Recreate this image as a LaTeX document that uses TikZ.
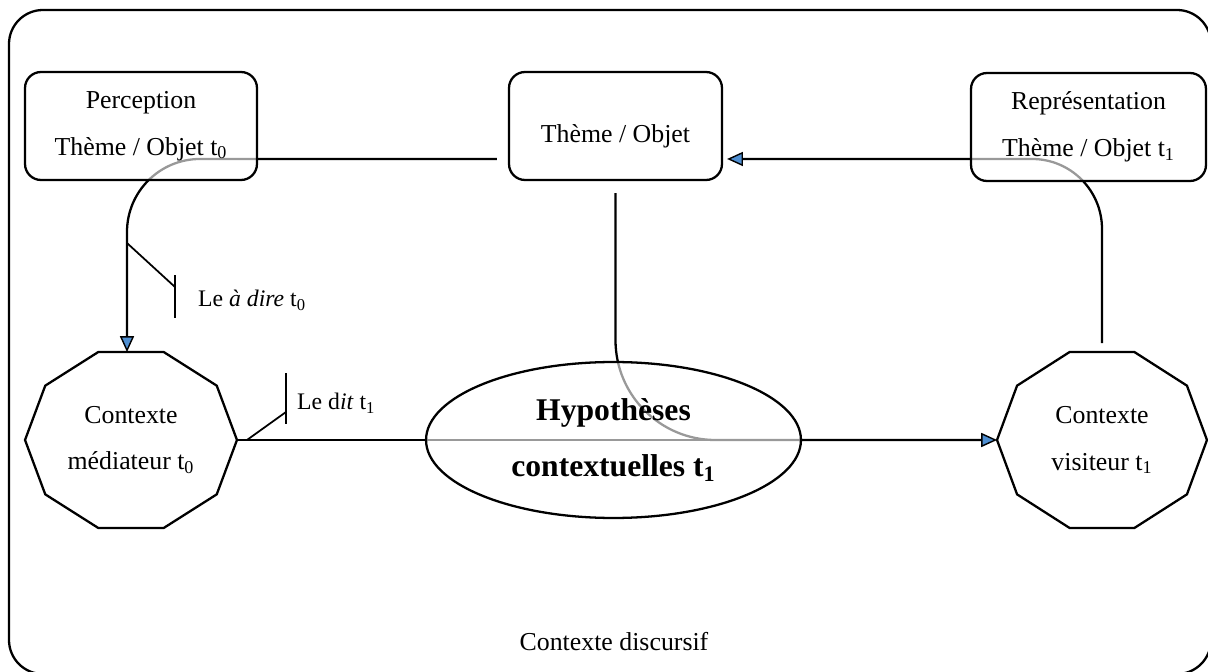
\documentclass[tikz,border=0pt]{standalone}
\usepackage{fontspec}
\setmainfont{Liberation Serif}
\usepackage{xcolor}
\usepackage{tikz}
\usetikzlibrary{positioning, shapes.geometric, backgrounds}
\usetikzlibrary{calc, arrows.meta}

\definecolor{bleuFleche}{RGB}{79,143,210}

\tikzset{
    lien/.style={line width=1.3pt},
    tiret/.style={line width=1pt},
    fleche/.style={lien, -{Triangle[length=9pt, width=8pt, line width=0.8pt, fill=bleuFleche]}},
    cadre/.style={draw, lien, rounded corners=0.32cm, fill=white, fill opacity=0.6, text opacity=1,
        align=center, minimum height=2.16cm, inner sep=0pt},
    deca/.style={align=center, inner sep=0pt}
}

\begin{document}
\begin{tikzpicture}[x=0.02cm, y=-0.02cm, every node/.style={font=\fontsize{14.7pt}{26.6pt}\selectfont}]
    \useasboundingbox (0,0) rectangle (1208,672);

    % 1. Cadre du contexte discursif
    \draw[lien, rounded corners=0.68cm] (9,10) rectangle (1211,674);
    \node (discursif) at (614,642) {Contexte discursif};

    % 2. Thème / Objet (t0, t, t1)
    \node[cadre, minimum width=4.64cm] (perc) at (141,126) {Perception\\Thème / Objet t\textsubscript{0}};
    \node[cadre, minimum width=4.26cm, text height=19pt, text depth=0pt] (theme) at (615.5,126) {Thème / Objet};
    \node[cadre, minimum width=4.7cm] (repr) at (1088.5,127) {Représentation\\Thème / Objet t\textsubscript{1}};

    % 3. Hypothèses contextuelles
    \node[ellipse, draw, lien, fill=white, fill opacity=0.6, text opacity=1, minimum width=7.5cm,
        minimum height=3.12cm, inner sep=0pt, align=center,
        font=\fontsize{18pt}{32pt}\selectfont\bfseries] (hyp) at (613.5,440) {Hypothèses\\contextuelles t\textsubscript{1}};

    % 4. Contextes (décagones)
    \node[deca] (med) at (131,440) {Contexte\\médiateur t\textsubscript{0}};
    \node[deca] (vis) at (1102,440) {Contexte\\visiteur t\textsubscript{1}};
    \draw[lien] ([shift={(0:2.12cm and 1.85cm)}]med.center)
        \foreach \a in {36,72,...,324} {-- ([shift={(\a:2.12cm and 1.85cm)}]med.center)} -- cycle;
    \draw[lien] ([shift={(0:2.1cm and 1.85cm)}]vis.center)
        \foreach \a in {36,72,...,324} {-- ([shift={(\a:2.1cm and 1.85cm)}]vis.center)} -- cycle;

    \coordinate (med-e) at ([xshift=2.12cm]med.center);
    \coordinate (med-n) at ([shift={(-0.08cm,1.76cm)}]med.center);
    \coordinate (vis-w) at ([xshift=-2.1cm]vis.center);
    \coordinate (vis-n) at ([yshift=1.94cm]vis.center);
    \coordinate (theme-o) at ([shift={(-0.22cm,-0.66cm)}]theme.west);
    \coordinate (theme-s) at ([yshift=-0.24cm]theme.south);

    % 5. Liens (sous les cadres)
    \begin{scope}[on background layer]
        \draw[fleche, rounded corners=1.46cm] (theme-o) -| (med-n);
        \draw[fleche, rounded corners=1.4cm] (vis-n) |- ([shift={(0.08cm,-0.66cm)}]theme.east);
        \draw[fleche, rounded corners=2cm] (theme-s) |- (vis-w);
        \draw[lien] (med-e) -- (hyp.east);
    \end{scope}

    % 6. Le à dire / le dit
    \coordinate (adire) at (175,287);
    \coordinate (dit) at (286,412);
    \draw[tiret] ([yshift=2.18cm]med-n) -- (adire) ([yshift=0.24cm]adire) -- ([yshift=-0.62cm]adire);
    \draw[tiret] ([xshift=0.2cm]med-e) -- (dit) ([yshift=0.78cm]dit) -- ([yshift=-0.24cm]dit);
    \node[right, font=\fontsize{13.5pt}{16pt}\selectfont] (adire-l) at (192,300) {Le \textit{à dire} t\textsubscript{0}};
    \node[right, font=\fontsize{13.5pt}{16pt}\selectfont] (dit-l) at (291,403) {Le d\textit{it} t\textsubscript{1}};

\end{tikzpicture}
\end{document}
